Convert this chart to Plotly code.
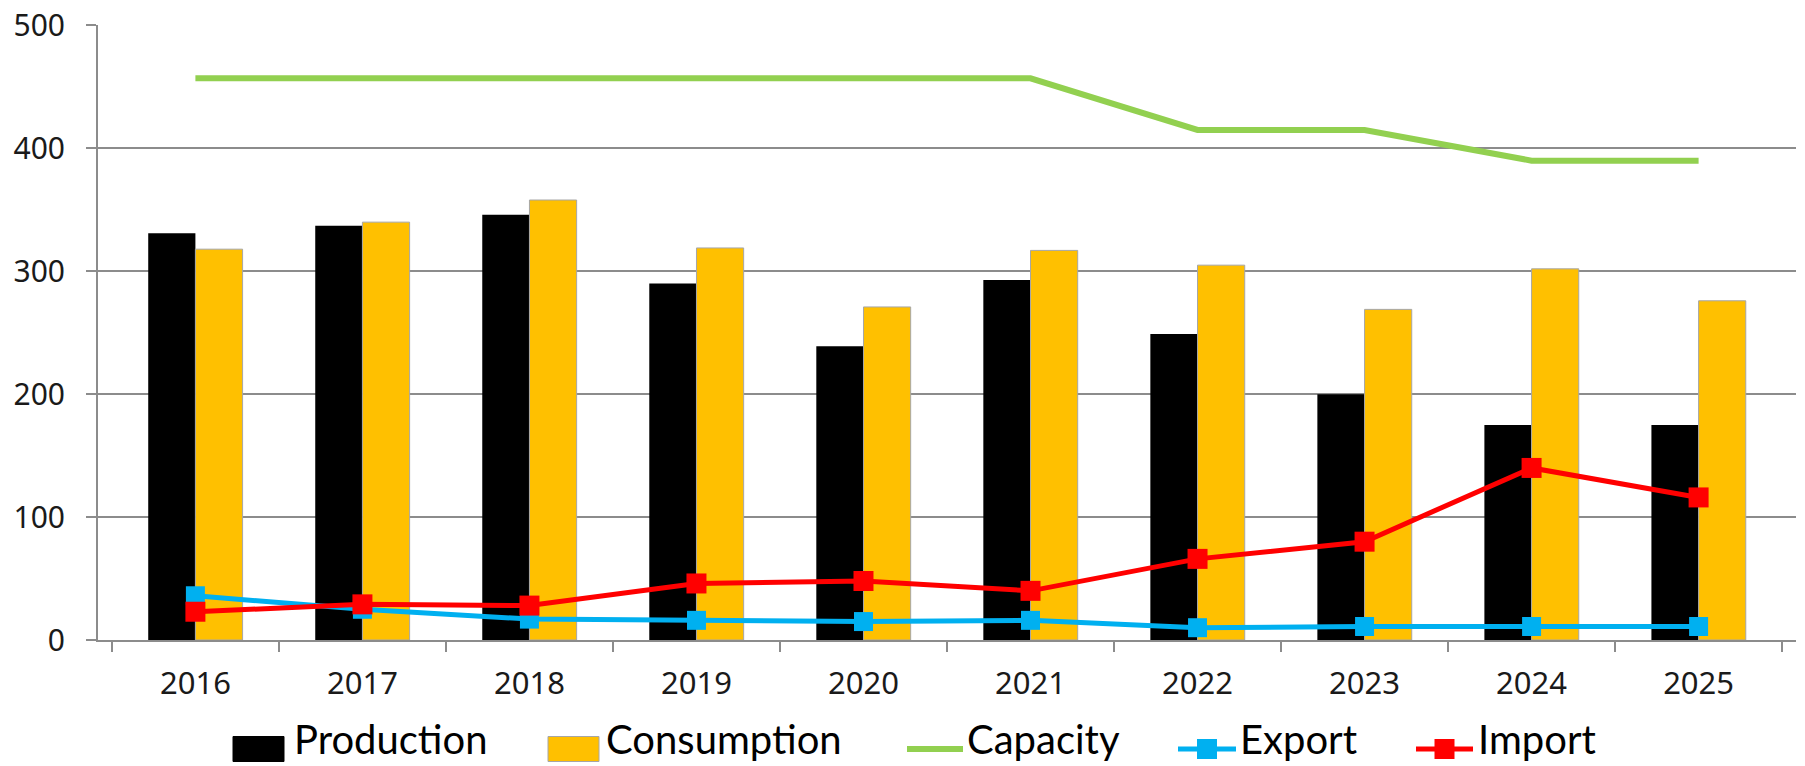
import plotly.graph_objects as go

years = ["2016", "2017", "2018", "2019", "2020", "2021", "2022", "2023", "2024", "2025"]
production = [331, 337, 346, 290, 239, 293, 249, 200, 175, 175]
consumption = [318, 340, 358, 319, 271, 317, 305, 269, 302, 276]
capacity = [457, 457, 457, 457, 457, 457, 415, 415, 390, 390]
export = [36, 25, 17, 16, 15, 16, 10, 11, 11, 11]
imports = [23, 29, 28, 46, 48, 40, 66, 80, 140, 116]

C_PROD = "#000000"
C_CONS = "#FFC000"
C_CAP = "#92D050"
C_EXP = "#00B0F0"
C_IMP = "#FF0000"
FONT = "Noto Sans"
LEG_FONT = "Lato"
GRID = "#8c8c8c"

W, H = 1805, 766
# plot area in window pixels: x 98..1796, y 25..640
L, R, T, B = 98, 1805 - 1796, 25, 766 - 640
PW, PH = W - L - R, H - T - B


def px(x):
    return (x - L) / PW


def py(y):
    return (H - B - y) / PH


fig = go.Figure()
fig.add_trace(go.Bar(x=years, y=production, name="Production",
                     marker=dict(color=C_PROD, line=dict(width=0))))
fig.add_trace(go.Bar(x=years, y=consumption, name="Consumption",
                     marker=dict(color=C_CONS, line=dict(color="#a6a6a6", width=1))))
fig.add_trace(go.Scatter(x=years, y=capacity, name="Capacity", mode="lines",
                         line=dict(color=C_CAP, width=6)))
fig.add_trace(go.Scatter(x=years, y=export, name="Export", mode="lines+markers",
                         line=dict(color=C_EXP, width=5),
                         marker=dict(symbol="square", size=19, color=C_EXP)))
fig.add_trace(go.Scatter(x=years, y=imports, name="Import", mode="lines+markers",
                         line=dict(color=C_IMP, width=5),
                         marker=dict(symbol="square", size=20, color=C_IMP)))

# custom legend (pixel layout converted to paper coordinates)
shapes = []
annotations = []
LEG_Y = 749
legend_items = [
    ("Production", "rect", C_PROD, 233, 284, 292),
    ("Consumption", "rect", C_CONS, 548, 599, 604),
    ("Capacity", "line", C_CAP, 907, 963, 965),
    ("Export", "marker", C_EXP, 1178, 1236, 1238),
    ("Import", "marker", C_IMP, 1416, 1473, 1476),
]
for label, kind, color, x0, x1, tx in legend_items:
    if kind == "rect":
        shapes.append(dict(type="rect", xref="paper", yref="paper",
                           x0=px(x0), x1=px(x1), y0=py(LEG_Y - 12.5), y1=py(LEG_Y + 12.5),
                           fillcolor=color,
                           line=dict(color="#a6a6a6" if color == C_CONS else color, width=1)))
    else:
        shapes.append(dict(type="line", xref="paper", yref="paper",
                           x0=px(x0), x1=px(x1), y0=py(LEG_Y), y1=py(LEG_Y),
                           line=dict(color=color, width=6 if kind == "line" else 5)))
        if kind == "marker":
            cx = (x0 + x1) / 2
            shapes.append(dict(type="rect", xref="paper", yref="paper",
                               x0=px(cx - 10), x1=px(cx + 10), y0=py(LEG_Y - 10), y1=py(LEG_Y + 10),
                               fillcolor=color, line=dict(color=color, width=0)))
    annotations.append(dict(xref="paper", yref="paper", x=px(tx), y=py(739),
                            xanchor="left", yanchor="middle", text=label, showarrow=False,
                            font=dict(family=LEG_FONT, size=40, color="#000000")))

fig.update_layout(
    width=W, height=H,
    margin=dict(l=L, r=R, t=T, b=B, autoexpand=False),
    paper_bgcolor="white", plot_bgcolor="white",
    barmode="group", bargap=0.435, bargroupgap=0,
    font=dict(family=FONT, color="#000000"),
    showlegend=False,
    shapes=shapes,
    annotations=annotations,
    xaxis=dict(type="category", showgrid=False, showline=True, linecolor=GRID, linewidth=2,
               ticks="outside", tickson="boundaries", ticklen=10, tickwidth=2, tickcolor=GRID,
               ticklabelstandoff=15, automargin=False,
               tickfont=dict(size=31, family=FONT, color="#1a1a1a")),
    yaxis=dict(range=[0, 500.4], tickvals=[0, 100, 200, 300, 400, 500],
               showgrid=True, gridcolor=GRID, gridwidth=2,
               showline=True, linecolor=GRID, linewidth=2, zeroline=False,
               ticks="outside", ticklen=10, tickwidth=2, tickcolor=GRID,
               ticklabelstandoff=15, automargin=False, ticklabeloverflow="allow",
               tickfont=dict(size=30, family=FONT, color="#1a1a1a")),
)

fig.write_html("out.html",
               config={"displayModeBar": False},
               post_script="document.body.style.margin='0';document.body.style.overflow='hidden';")
